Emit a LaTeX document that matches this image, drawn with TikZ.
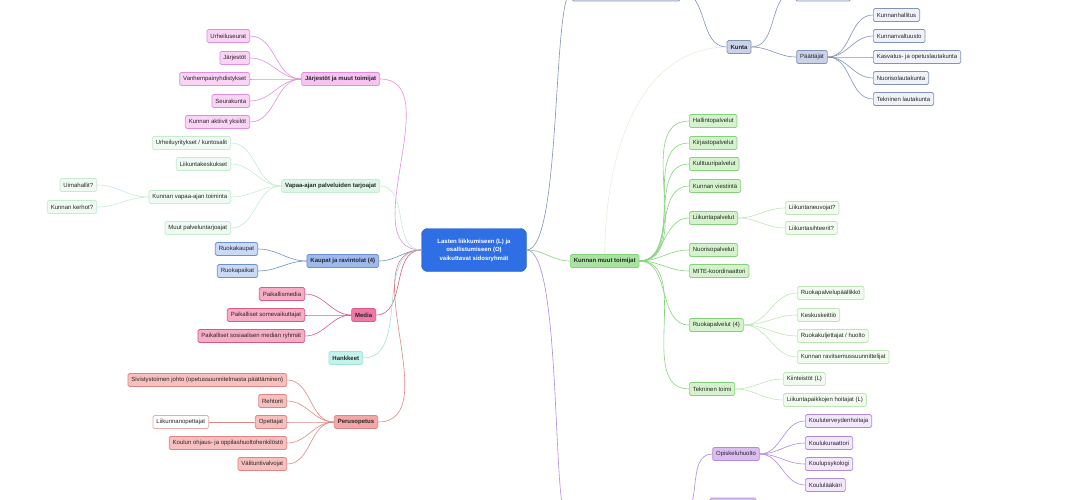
\documentclass[tikz,border=0pt]{standalone}
\usepackage{fontspec}
\setmainfont{Liberation Sans}
\usetikzlibrary{positioning}

% colour families
\definecolor{rootblue}{HTML}{2F6FE6}
\definecolor{jarjfill}{HTML}{F7C3F0}
\definecolor{jarjline}{HTML}{E08FDC}
\definecolor{jarjkid}{HTML}{F9D4F5}
\definecolor{vapfill}{HTML}{DDF5E6}
\definecolor{vapline}{HTML}{C6EBD3}
\definecolor{vapkid}{HTML}{EEFAF2}
\definecolor{kaupfill}{HTML}{9DB9EE}
\definecolor{kaupline}{HTML}{6E8FD2}
\definecolor{kaupkid}{HTML}{C9D9F6}
\definecolor{medfill}{HTML}{EF78A6}
\definecolor{medline}{HTML}{D85A88}
\definecolor{medkid}{HTML}{F7ADC6}
\definecolor{hankfill}{HTML}{C4F3EC}
\definecolor{hankline}{HTML}{9FE3D8}
\definecolor{perfill}{HTML}{F5A6A6}
\definecolor{perline}{HTML}{E08585}
\definecolor{perkid}{HTML}{F8BFBF}
\definecolor{kunfill}{HTML}{C9D2E6}
\definecolor{kunline}{HTML}{8292BA}
\definecolor{kunkid}{HTML}{F0F2F9}
\definecolor{kmtfill}{HTML}{A9E3A0}
\definecolor{kmtline}{HTML}{86D27C}
\definecolor{kmtkid}{HTML}{D4F3CC}
\definecolor{kmtsub}{HTML}{F2FBEF}
\definecolor{kmtsubline}{HTML}{BFE5B6}
\definecolor{opfill}{HTML}{DCBDF2}
\definecolor{opline}{HTML}{B08ADF}
\definecolor{opkid}{HTML}{F3E7FB}
\definecolor{faintarc}{HTML}{E6EEDA}

\begin{document}
\begin{tikzpicture}[x=1pt,y=-1pt,
  box/.style={draw, rounded corners=1.5pt, line width=0.7pt, minimum height=13pt,
    inner xsep=3.5pt, inner ysep=1pt, text=black!85, font=\fontsize{6}{7}\selectfont},
  topic/.style={box, font=\fontsize{6}{7}\selectfont\bfseries},
  link/.style={line width=0.6pt},
]

\useasboundingbox (0,0) rectangle (1090,500);
\clip (0,0) rectangle (1090,500);

%---------------------------------------
% Root
%---------------------------------------
\node[fill=rootblue, draw=rootblue!85!black, rounded corners=6pt, minimum width=105pt,
      minimum height=43pt, align=center, text=white,
      font=\fontsize{6}{8.5}\selectfont\bfseries] (root) at (474,250)
      {Lasten liikkumiseen (L) ja\\osallistumiseen (O)\\vaikuttavat sidosryhmät};

%====================================================
% LEFT SIDE
%====================================================

% ---- Järjestöt ja muut toimijat ----
\node[topic, fill=jarjfill, draw=jarjline, anchor=east] (jarj) at (380,79) {Järjestöt ja muut toimijat};
\node[box, fill=jarjkid, draw=jarjline, anchor=east] (urheiluseurat) at (250,36) {Urheiluseurat};
\node[box, fill=jarjkid, draw=jarjline, anchor=east] (jarjestot) at (250,58) {Järjestöt};
\node[box, fill=jarjkid, draw=jarjline, anchor=east] (vanhyhd) at (250,79) {Vanhempainyhdistykset};
\node[box, fill=jarjkid, draw=jarjline, anchor=east] (seurakunta) at (250,101) {Seurakunta};
\node[box, fill=jarjkid, draw=jarjline, anchor=east] (aktiivit) at (250,122) {Kunnan aktiivit yksilöt};

\draw[link, jarjline] (root.west) to[out=180,in=0] (jarj.east);
\draw[link, jarjline] (jarj.west) to[out=180,in=0] (urheiluseurat.east);
\draw[link, jarjline] (jarj.west) to[out=180,in=0] (jarjestot.east);
\draw[link, jarjline] (jarj.west) to[out=180,in=0] (vanhyhd.east);
\draw[link, jarjline] (jarj.west) to[out=180,in=0] (seurakunta.east);
\draw[link, jarjline] (jarj.west) to[out=180,in=0] (aktiivit.east);

% ---- Vapaa-ajan palveluiden tarjoajat ----
\node[topic, fill=vapfill, draw=vapline, anchor=east] (vapaa) at (380,186) {Vapaa-ajan palveluiden tarjoajat};
\node[box, fill=vapkid, draw=vapline, anchor=east] (yritykset) at (231,143) {Urheiluyritykset / kuntosalit};
\node[box, fill=vapkid, draw=vapline, anchor=east] (liikkeskus) at (231,164) {Liikuntakeskukset};
\node[box, fill=vapkid, draw=vapline, anchor=east] (kunvapaa) at (231,197) {Kunnan vapaa-ajan toiminta};
\node[box, fill=vapkid, draw=vapline, anchor=east] (muutpalv) at (231,228) {Muut palveluntarjoajat};
\node[box, fill=vapkid, draw=vapline, anchor=east] (uimahallit) at (97,185) {Uimahallit?};
\node[box, fill=vapkid, draw=vapline, anchor=east] (kerhot) at (97,207) {Kunnan kerhot?};

\draw[link, vapline] (root.west) to[out=180,in=0] (vapaa.east);
\draw[link, vapline] (vapaa.west) to[out=180,in=0] (yritykset.east);
\draw[link, vapline] (vapaa.west) to[out=180,in=0] (liikkeskus.east);
\draw[link, vapline] (vapaa.west) to[out=180,in=0] (kunvapaa.east);
\draw[link, vapline] (vapaa.west) to[out=180,in=0] (muutpalv.east);
\draw[link, vapline] (kunvapaa.west) to[out=180,in=0] (uimahallit.east);
\draw[link, vapline] (kunvapaa.west) to[out=180,in=0] (kerhot.east);

% ---- Kaupat ja ravintolat ----
\node[topic, fill=kaupfill, draw=kaupline, anchor=east] (kaupat) at (379,261) {Kaupat ja ravintolat (4)};
\node[box, fill=kaupkid, draw=kaupline, anchor=east] (ruokakaupat) at (258,249) {Ruokakaupat};
\node[box, fill=kaupkid, draw=kaupline, anchor=east] (ruokapaikat) at (258,271) {Ruokapaikat};

\draw[link, kaupline] (root.west) to[out=180,in=0] (kaupat.east);
\draw[link, kaupline] (kaupat.west) to[out=180,in=0] (ruokakaupat.east);
\draw[link, kaupline] (kaupat.west) to[out=180,in=0] (ruokapaikat.east);

% ---- Media ----
\node[topic, fill=medfill, draw=medline, anchor=east] (media) at (376,315) {Media};
\node[box, fill=medkid, draw=medline, anchor=east] (paikmedia) at (305,294) {Paikallismedia};
\node[box, fill=medkid, draw=medline, anchor=east] (somevaik) at (305,315) {Paikalliset somevaikuttajat};
\node[box, fill=medkid, draw=medline, anchor=east] (someryhmat) at (305,336) {Paikalliset sosiaalisen median ryhmät};

\draw[link, medline] (root.west) to[out=180,in=0] (media.east);
\draw[link, medline] (media.west) to[out=180,in=0] (paikmedia.east);
\draw[link, medline] (media.west) to[out=180,in=0] (somevaik.east);
\draw[link, medline] (media.west) to[out=180,in=0] (someryhmat.east);

% ---- Hankkeet ----
\node[topic, fill=hankfill, draw=hankline, anchor=east] (hankkeet) at (363,358) {Hankkeet};
\draw[link, hankline] (root.west) to[out=180,in=0] (hankkeet.east);

% ---- Perusopetus ----
\node[topic, fill=perfill, draw=perline, anchor=east] (perus) at (378,422) {Perusopetus};
\node[box, fill=perkid, draw=perline, anchor=east] (sivistys) at (287,380) {Sivistystoimen johto (opetussuunnitelmasta päättäminen)};
\node[box, fill=perkid, draw=perline, anchor=east] (rehtorit) at (287,401) {Rehtorit};
\node[box, fill=perkid, draw=perline, anchor=east] (opettajat) at (287,422) {Opettajat};
\node[box, fill=perkid, draw=perline, anchor=east] (henkilosto) at (287,443) {Koulun ohjaus- ja oppilashuoltohenkilöstö};
\node[box, fill=perkid, draw=perline, anchor=east] (valvojat) at (287,464) {Välituntivalvojat};
\node[box, fill=white, draw=perline!70, anchor=east] (liikope) at (209,422) {Liikunnanopettajat};

\draw[link, perline] (root.west) to[out=180,in=0] (perus.east);
\draw[link, perline] (perus.west) to[out=180,in=0] (sivistys.east);
\draw[link, perline] (perus.west) to[out=180,in=0] (rehtorit.east);
\draw[link, perline] (perus.west) to[out=180,in=0] (opettajat.east);
\draw[link, perline] (perus.west) to[out=180,in=0] (henkilosto.east);
\draw[link, perline] (perus.west) to[out=180,in=0] (valvojat.east);
\draw[link, perline] (opettajat.west) -- (liikope.east);

%====================================================
% RIGHT SIDE
%====================================================

% ---- Top branch (cut off by the frame) ----
\node[box, fill=kunfill!60, draw=kunline, minimum width=108pt, minimum height=18pt] (ylin) at (626,-8) {};
\node[box, fill=kunkid, draw=kunline, minimum width=55pt, minimum height=18pt] (ylinoik) at (823,-8) {};
\node[topic, fill=kunfill, draw=kunline] (kunta) at (739,47) {Kunta};
\node[box, fill=kunfill, draw=kunline] (paattajat) at (812,57) {Päättäjät};
\node[box, fill=kunkid, draw=kunline, anchor=west] (kunhall) at (873,15) {Kunnanhallitus};
\node[box, fill=kunkid, draw=kunline, anchor=west] (kunvalt) at (873,36) {Kunnanvaltuusto};
\node[box, fill=kunkid, draw=kunline, anchor=west] (kasvltk) at (873,57) {Kasvatus- ja opetuslautakunta};
\node[box, fill=kunkid, draw=kunline, anchor=west] (nuorltk) at (873,78) {Nuorisolautakunta};
\node[box, fill=kunkid, draw=kunline, anchor=west] (tekltk) at (873,99) {Tekninen lautakunta};

\draw[link, kunline] (root.east) .. controls (562,250) and (552,-8) .. (ylin.west);
\draw[link, kunline] (ylin.east) to[out=0,in=180] (kunta.west);
\draw[link, kunline] (kunta.east) to[out=0,in=180] (ylinoik.west);
\draw[link, kunline] (kunta.east) to[out=0,in=180] (paattajat.west);
\draw[link, kunline] (paattajat.east) to[out=0,in=180] (kunhall.west);
\draw[link, kunline] (paattajat.east) to[out=0,in=180] (kunvalt.west);
\draw[link, kunline] (paattajat.east) to[out=0,in=180] (kasvltk.west);
\draw[link, kunline] (paattajat.east) to[out=0,in=180] (nuorltk.west);
\draw[link, kunline] (paattajat.east) to[out=0,in=180] (tekltk.west);

% ---- Kunnan muut toimijat ----
\node[topic, fill=kmtfill, draw=kmtline, anchor=west] (kmt) at (570,261) {Kunnan muut toimijat};
\node[box, fill=kmtkid, draw=kmtline, anchor=west] (hallinto) at (689,121) {Hallintopalvelut};
\node[box, fill=kmtkid, draw=kmtline, anchor=west] (kirjasto) at (689,143) {Kirjastopalvelut};
\node[box, fill=kmtkid, draw=kmtline, anchor=west] (kulttuuri) at (689,164) {Kulttuuripalvelut};
\node[box, fill=kmtkid, draw=kmtline, anchor=west] (viestinta) at (689,186) {Kunnan viestintä};
\node[box, fill=kmtkid, draw=kmtline, anchor=west] (liikpalv) at (689,218) {Liikuntapalvelut};
\node[box, fill=kmtkid, draw=kmtline, anchor=west] (nuoriso) at (689,250) {Nuorisopalvelut};
\node[box, fill=kmtkid, draw=kmtline, anchor=west] (koordinaattori) at (689,271) {MITE-koordinaattori};
\node[box, fill=kmtkid, draw=kmtline, anchor=west] (ruokapalv) at (689,325) {Ruokapalvelut (4)};
\node[box, fill=kmtkid, draw=kmtline, anchor=west] (tekninen) at (689,389) {Tekninen toimi};

\node[box, fill=kmtsub, draw=kmtsubline, anchor=west] (neuvojat) at (785,208) {Liikuntaneuvojat?};
\node[box, fill=kmtsub, draw=kmtsubline, anchor=west] (sihteerit) at (785,228) {Liikuntasihteerit?};
\node[box, fill=kmtsub, draw=kmtsubline, anchor=west] (ruokapaal) at (797,293) {Ruokapalvelupäällikkö};
\node[box, fill=kmtsub, draw=kmtsubline, anchor=west] (keittio) at (797,315) {Keskuskeittiö};
\node[box, fill=kmtsub, draw=kmtsubline, anchor=west] (kuljettajat) at (797,336) {Ruokakuljettajat / huolto};
\node[box, fill=kmtsub, draw=kmtsubline, anchor=west] (ravitsemus) at (797,357) {Kunnan ravitsemussuunnittelijat};
\node[box, fill=kmtsub, draw=kmtsubline, anchor=west] (kiinteistot) at (783,379) {Kiinteistöt (L)};
\node[box, fill=kmtsub, draw=kmtsubline, anchor=west] (hoitajat) at (783,400) {Liikuntapaikkojen hoitajat (L)};

\draw[link, kmtline] (root.east) to[out=0,in=180] (kmt.west);
\draw[link, kmtline] (kmt.east) to[out=0,in=180] (hallinto.west);
\draw[link, kmtline] (kmt.east) to[out=0,in=180] (kirjasto.west);
\draw[link, kmtline] (kmt.east) to[out=0,in=180] (kulttuuri.west);
\draw[link, kmtline] (kmt.east) to[out=0,in=180] (viestinta.west);
\draw[link, kmtline] (kmt.east) to[out=0,in=180] (liikpalv.west);
\draw[link, kmtline] (kmt.east) to[out=0,in=180] (nuoriso.west);
\draw[link, kmtline] (kmt.east) to[out=0,in=180] (koordinaattori.west);
\draw[link, kmtline] (kmt.east) to[out=0,in=180] (ruokapalv.west);
\draw[link, kmtline] (kmt.east) to[out=0,in=180] (tekninen.west);
\draw[link, kmtsubline] (liikpalv.east) to[out=0,in=180] (neuvojat.west);
\draw[link, kmtsubline] (liikpalv.east) to[out=0,in=180] (sihteerit.west);
\draw[link, kmtsubline] (ruokapalv.east) to[out=0,in=180] (ruokapaal.west);
\draw[link, kmtsubline] (ruokapalv.east) to[out=0,in=180] (keittio.west);
\draw[link, kmtsubline] (ruokapalv.east) to[out=0,in=180] (kuljettajat.west);
\draw[link, kmtsubline] (ruokapalv.east) to[out=0,in=180] (ravitsemus.west);
\draw[link, kmtsubline] (tekninen.east) to[out=0,in=180] (kiinteistot.west);
\draw[link, kmtsubline] (tekninen.east) to[out=0,in=180] (hoitajat.west);

% faint arc between Kunta and Kunnan muut toimijat
\draw[link, faintarc] (kunta.west) .. controls (645,48) and (606,140) .. (kmt.north);

% ---- Bottom branch (cut off by the frame) ----
\node[box, fill=opfill, draw=opline, minimum width=110pt] (alin) at (622,516) {};
\node[box, fill=opfill, draw=opline, minimum width=46pt, minimum height=18pt] (alinoik) at (733,507) {};
\node[box, fill=opfill, draw=opline] (opisk) at (736,454) {Opiskeluhuolto};
\node[box, fill=opkid, draw=opline, anchor=west] (terveys) at (805,421) {Kouluterveydenhoitaja};
\node[box, fill=opkid, draw=opline, anchor=west] (kuraattori) at (805,443) {Koulukuraattori};
\node[box, fill=opkid, draw=opline, anchor=west] (psykologi) at (805,464) {Koulupsykologi};
\node[box, fill=opkid, draw=opline, anchor=west] (laakari) at (805,485) {Koululääkäri};

\draw[link, opline] (root.east) .. controls (562,250) and (552,516) .. (alin.west);
\draw[link, opline] (alin.east) to[out=0,in=180] (opisk.west);
\draw[link, opline] (alin.east) to[out=0,in=180] (alinoik.west);
\draw[link, opline] (opisk.east) to[out=0,in=180] (terveys.west);
\draw[link, opline] (opisk.east) to[out=0,in=180] (kuraattori.west);
\draw[link, opline] (opisk.east) to[out=0,in=180] (psykologi.west);
\draw[link, opline] (opisk.east) to[out=0,in=180] (laakari.west);

\end{tikzpicture}
\end{document}
